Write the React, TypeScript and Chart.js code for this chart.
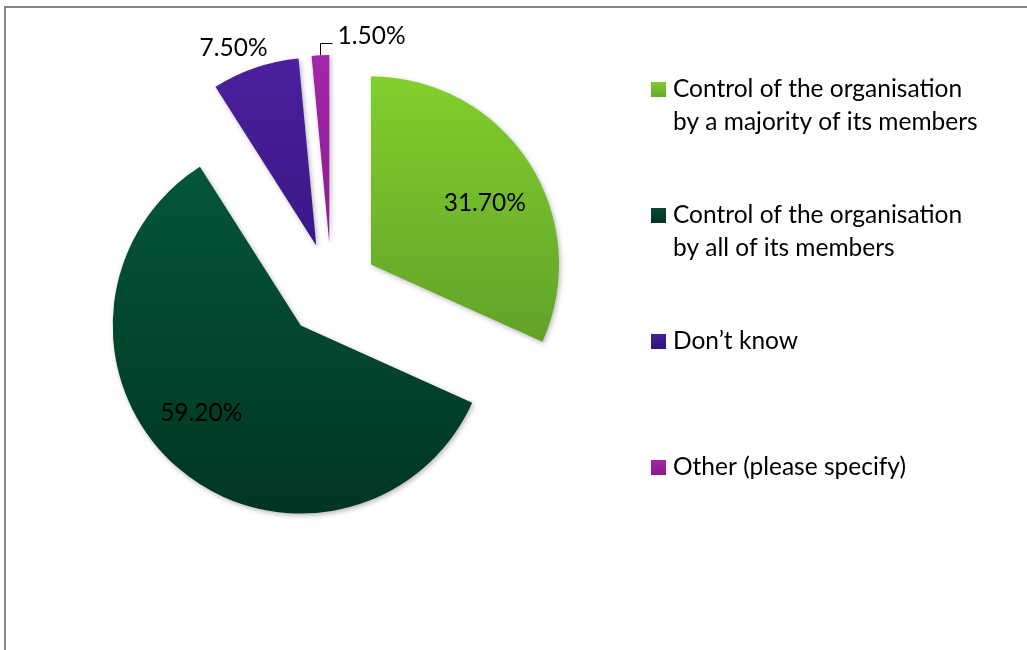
import React, { useEffect, useRef } from "react";
import { Chart, registerables } from "chart.js";

Chart.register(...registerables);

// ---------- data ----------
const CATEGORIES = [
  "Control of the organisation by a majority of its members",
  "Control of the organisation by all of its members",
  "Don’t know",
  "Other (please specify)",
];
const LEGEND_LINES = [
  ["Control of the organisation", "by a majority of its members"],
  ["Control of the organisation", "by all of its members"],
  ["Don’t know"],
  ["Other (please specify)"],
];
const VALUES = [31.7, 59.2, 7.5, 1.5];
const VALUE_LABELS = ["31.70%", "59.20%", "7.50%", "1.50%"];

// ---------- style ----------
const TOP_COLORS = ["#82CF2C", "#04563B", "#4C209E", "#A426AA"];
const BOTTOM_COLORS = ["#62A229", "#003524", "#391786", "#8A1C92"];
const SWATCH_TOP = ["#7FCB2B", "#064A33", "#45209A", "#A426A6"];
const SWATCH_BOTTOM = ["#66A82A", "#00341F", "#321478", "#8A1A8C"];

const FONT_FAMILY = "Lato, 'Open Sans', sans-serif";
const FONT_SIZE = 24.5;
const RADIUS = 188;
const EXPLODE = 47;

function sliceGradient(c: any) {
  const chart = c.chart;
  const area = chart.chartArea;
  const i = c.dataIndex ?? 0;
  if (!area) return TOP_COLORS[i];
  const cx = (area.left + area.right) / 2;
  const cy = (area.top + area.bottom) / 2;
  const total = VALUES.reduce((a, b) => a + b, 0);
  let start = -Math.PI / 2;
  for (let k = 0; k < i; k++) start += (VALUES[k] / total) * 2 * Math.PI;
  const end = start + (VALUES[i] / total) * 2 * Math.PI;
  let ymin = cy;
  let ymax = cy;
  for (let s = 0; s <= 60; s++) {
    const a = start + ((end - start) * s) / 60;
    const y = cy + Math.sin(a) * RADIUS;
    ymin = Math.min(ymin, y);
    ymax = Math.max(ymax, y);
  }
  const g = chart.ctx.createLinearGradient(0, ymin, 0, ymax);
  g.addColorStop(0, TOP_COLORS[i]);
  g.addColorStop(1, BOTTOM_COLORS[i]);
  return g;
}

const explodePlugin = {
  id: "explodeSlices",
  beforeDatasetDraw(chart: any, args: any, opts: any) {
    const ctx = chart.ctx;
    const meta = args.meta;
    meta.data.forEach((el: any) => {
      const mid = (el.startAngle + el.endAngle) / 2;
      ctx.save();
      ctx.translate(Math.cos(mid) * opts.distance, Math.sin(mid) * opts.distance);
      ctx.shadowColor = "rgba(0,0,0,0.28)";
      ctx.shadowBlur = 5;
      ctx.shadowOffsetX = 1.5;
      ctx.shadowOffsetY = 2;
      el.draw(ctx, chart.chartArea);
      ctx.restore();
    });
    return false;
  },
};

const valueLabelPlugin = {
  id: "valueLabels",
  afterDatasetsDraw(chart: any, _args: any, opts: any) {
    const ctx = chart.ctx;
    const meta = chart.getDatasetMeta(0);
    ctx.save();
    ctx.font = `${FONT_SIZE}px ${FONT_FAMILY}`;
    ctx.fillStyle = "#000";
    ctx.textBaseline = "alphabetic";
    const capHalf = FONT_SIZE * 0.36;
    meta.data.forEach((el: any, i: number) => {
      const mid = (el.startAngle + el.endAngle) / 2;
      const vx = el.x + Math.cos(mid) * opts.distance;
      const vy = el.y + Math.sin(mid) * opts.distance;
      const p = opts.placements[i];
      if (p.leader) {
        const sx = Math.round(vx + Math.cos(mid) * el.outerRadius) + 0.5;
        const sy = vy + Math.sin(mid) * el.outerRadius;
        const ly = Math.round(sy - p.rise) + 0.5;
        const lx = sx + p.run;
        ctx.strokeStyle = "#000";
        ctx.lineWidth = 1;
        ctx.beginPath();
        ctx.moveTo(sx, sy);
        ctx.lineTo(sx, ly);
        ctx.lineTo(lx, ly);
        ctx.stroke();
        ctx.textAlign = "left";
        ctx.fillText(VALUE_LABELS[i], lx + p.gap, ly);
      } else {
        const a = mid + (p.shift * Math.PI) / 180;
        const x = vx + Math.cos(a) * p.dist;
        const y = vy + Math.sin(a) * p.dist;
        ctx.textAlign = "center";
        ctx.fillText(VALUE_LABELS[i], x, y + capHalf);
      }
    });
    ctx.restore();
  },
};

const sideLegendPlugin = {
  id: "sideLegend",
  afterDraw(chart: any, _args: any, opts: any) {
    const ctx = chart.ctx;
    ctx.save();
    ctx.font = `${FONT_SIZE}px ${FONT_FAMILY}`;
    ctx.textBaseline = "alphabetic";
    ctx.textAlign = "left";
    LEGEND_LINES.forEach((lines, i) => {
      const base = opts.top + i * opts.step;
      const g = ctx.createLinearGradient(0, base - opts.box, 0, base);
      g.addColorStop(0, SWATCH_TOP[i]);
      g.addColorStop(1, SWATCH_BOTTOM[i]);
      ctx.fillStyle = g;
      ctx.fillRect(opts.x, base - opts.box, opts.box, opts.box);
      ctx.fillStyle = "#000";
      lines.forEach((ln, j) => ctx.fillText(ln, opts.textX, base + j * opts.lineHeight));
    });
    ctx.restore();
  },
};

export default function App() {
  const canvasRef = useRef<HTMLCanvasElement | null>(null);

  useEffect(() => {
    if (!canvasRef.current) return;
    const chart = new Chart(canvasRef.current, {
      type: "pie",
      data: {
        labels: CATEGORIES,
        datasets: [
          {
            data: VALUES,
            backgroundColor: sliceGradient as any,
            borderWidth: 0,
            radius: RADIUS,
          } as any,
        ],
      },
      options: {
        responsive: false,
        animation: false,
        devicePixelRatio: 1,
        layout: { padding: { left: 0, top: 0, right: 364, bottom: 70 } },
        plugins: {
          legend: { display: false },
          tooltip: { enabled: false },
          explodeSlices: { distance: EXPLODE },
          valueLabels: {
            distance: EXPLODE,
            placements: [
              { dist: 130, shift: 4 },
              { dist: 132, shift: 8 },
              { dist: 215, shift: -3.7 },
              { leader: true, rise: 12, run: 12, gap: 5 },
            ],
          },
          sideLegend: { x: 651, box: 15, textX: 673, top: 97, step: 126, lineHeight: 33 },
        } as any,
      },
      plugins: [explodePlugin, valueLabelPlugin, sideLegendPlugin],
    });
    const fonts: any = (document as any).fonts;
    if (fonts && fonts.load) {
      fonts.load(`${FONT_SIZE}px Lato`).then(() => chart.draw()).catch(() => {});
    }
    return () => chart.destroy();
  }, []);

  return (
    <div
      style={{
        position: "absolute",
        left: 0,
        top: 0,
        width: 1027,
        height: 650,
        overflow: "hidden",
        background: "#fff",
      }}
    >
      <div
        style={{
          position: "absolute",
          left: 4,
          top: 6,
          width: 1100,
          height: 700,
          border: "2px solid #878787",
          boxSizing: "border-box",
        }}
      />
      <canvas
        ref={canvasRef}
        width={1027}
        height={650}
        style={{ position: "absolute", left: 0, top: 0, width: 1027, height: 650 }}
      />
    </div>
  );
}
